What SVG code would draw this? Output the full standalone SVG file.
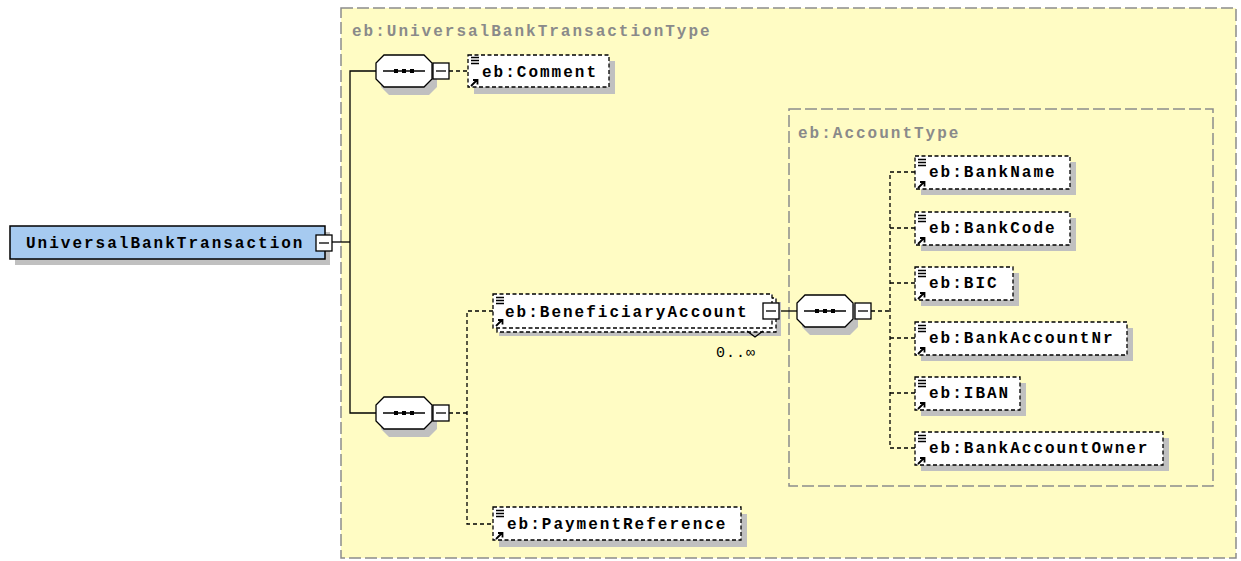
<svg xmlns="http://www.w3.org/2000/svg" width="1241" height="561" viewBox="0 0 1241 561">
<defs>
<style>
.bg{fill:#fff}
.type{fill:#FFFCC4;stroke:#8c8c8c;stroke-width:1.5;stroke-dasharray:12 4}
.tl{font-family:"Liberation Mono",monospace;font-weight:bold;font-size:16px;letter-spacing:2px;fill:#8a8a8a}
.t{font-family:"Liberation Mono",monospace;font-weight:bold;font-size:16px;letter-spacing:2px;fill:#000}
.occ{font-family:"Liberation Mono",monospace;font-size:15px;letter-spacing:1px;fill:#000}
.sh{fill:#c0c0c0}
.el{fill:#fff;stroke:#000;stroke-width:1.3;stroke-dasharray:4 2.5}
.root{fill:#A6CAF0;stroke:#000;stroke-width:1.5}
.ln{stroke:#000;stroke-width:1.3;fill:none}
.dl{stroke:#000;stroke-width:1.3;fill:none;stroke-dasharray:4 3}
.box{fill:#fff;stroke:#000;stroke-width:1.3}
.oct{fill:#fff;stroke:#000;stroke-width:1.3}
</style>
<g id="minus"><rect class="box" x="0" y="0" width="16" height="16"/><line class="ln" x1="3" y1="8" x2="13" y2="8"/></g>
<g id="seq"><path class="sh" d="M13 5 H53 L61 13 V32 L53 40 H13 L5 32 V13 Z"/><path class="oct" d="M8 0 H48 L56 8 V24 L48 32 H8 L0 24 V8 Z"/><line class="ln" x1="7" y1="16" x2="49" y2="16"/><rect x="18" y="14" width="4" height="4"/><rect x="26" y="14" width="4" height="4"/><rect x="34" y="14" width="4" height="4"/></g>
<g id="ico"><path d="M3 2.5 H11 M3 5.5 H11 M3 8.5 H11" stroke="#000" stroke-width="1.3"/><path d="M3 31 L9 25 M5 25 H9.5 V29.5" stroke="#000" stroke-width="1.8" fill="none"/></g>
</defs>
<rect width="1241" height="561" fill="#fff"/>
<g id="type-universal">
<rect class="type" x="341" y="8" width="895" height="550"/>
<text class="tl" x="352" y="36">eb:UniversalBankTransactionType</text>
</g>
<g id="type-account">
<rect class="type" x="789" y="109" width="424" height="377"/>
<text class="tl" x="798" y="138">eb:AccountType</text>
</g>
<g id="connectors">
<line class="ln" x1="332" y1="242" x2="350" y2="242"/>
<path class="ln" d="M376 71 H350 V413 H376"/>
<line class="dl" x1="449" y1="71" x2="468" y2="71"/>
<line class="dl" x1="449" y1="413" x2="467" y2="413"/>
<path class="dl" d="M493 311 H467 V524 H493"/>
<line class="ln" x1="779" y1="311" x2="797" y2="311"/>
<line class="dl" x1="871" y1="311" x2="890" y2="311"/>
<path class="dl" d="M915 172 H890 V448 H915"/>
<line class="dl" x1="890" y1="228" x2="915" y2="228"/>
<line class="dl" x1="890" y1="283" x2="915" y2="283"/>
<line class="dl" x1="890" y1="338" x2="915" y2="338"/>
<line class="dl" x1="890" y1="393" x2="915" y2="393"/>
</g>
<g id="node-root">
<rect class="sh" x="15" y="232" width="315" height="33"/>
<rect class="root" x="10" y="226" width="315" height="33"/>
<text class="t" x="26" y="248">UniversalBankTransaction</text>
<use href="#minus" x="316" y="235"/>
</g>
<g id="node-seq1"><use href="#seq" x="376" y="55"/><use href="#minus" x="433" y="63"/></g>
<g id="node-seq2"><use href="#seq" x="376" y="397"/><use href="#minus" x="433" y="405"/></g>
<g id="node-seq3"><use href="#seq" x="797" y="295"/><use href="#minus" x="855" y="303"/></g>
<g id="node-comment">
<rect class="sh" x="474" y="61" width="141" height="33"/>
<rect class="el" x="468" y="55" width="141" height="32"/>
<use href="#ico" x="468" y="55"/>
<text class="t" x="482" y="77">eb:Comment</text>
</g>
<g id="node-beneficiary">
<rect class="sh" x="499" y="302" width="282" height="34"/>
<rect class="el" x="497" y="298" width="279" height="34"/>
<rect class="el" x="493" y="294" width="279" height="34"/>
<use href="#ico" x="493" y="295"/>
<text class="t" x="505" y="317">eb:BeneficiaryAccount</text>
<use href="#minus" x="763" y="303"/>
<path class="ln" d="M747 331 L755 337 L763 331"/>
<text class="occ" x="716" y="357">0..∞</text>
</g>
<g id="node-payref">
<rect class="sh" x="499" y="514" width="248" height="33"/>
<rect class="el" x="493" y="507" width="248" height="33"/>
<use href="#ico" x="493" y="508"/>
<text class="t" x="507" y="529">eb:PaymentReference</text>
</g>
<g id="node-bankname">
<rect class="sh" x="921" y="162" width="155" height="33"/>
<rect class="el" x="915" y="156" width="155" height="33"/>
<use href="#ico" x="915" y="157"/>
<text class="t" x="929" y="177">eb:BankName</text>
</g>
<g id="node-bankcode">
<rect class="sh" x="921" y="218" width="155" height="33"/>
<rect class="el" x="915" y="212" width="155" height="33"/>
<use href="#ico" x="915" y="213"/>
<text class="t" x="929" y="233">eb:BankCode</text>
</g>
<g id="node-bic">
<rect class="sh" x="921" y="273" width="98" height="33"/>
<rect class="el" x="915" y="267" width="98" height="33"/>
<use href="#ico" x="915" y="268"/>
<text class="t" x="929" y="288">eb:BIC</text>
</g>
<g id="node-bankaccountnr">
<rect class="sh" x="921" y="328" width="212" height="33"/>
<rect class="el" x="915" y="322" width="212" height="33"/>
<use href="#ico" x="915" y="323"/>
<text class="t" x="929" y="343">eb:BankAccountNr</text>
</g>
<g id="node-iban">
<rect class="sh" x="921" y="383" width="105" height="33"/>
<rect class="el" x="915" y="377" width="105" height="33"/>
<use href="#ico" x="915" y="378"/>
<text class="t" x="929" y="398">eb:IBAN</text>
</g>
<g id="node-bankaccountowner">
<rect class="sh" x="921" y="438" width="248" height="33"/>
<rect class="el" x="915" y="432" width="248" height="33"/>
<use href="#ico" x="915" y="433"/>
<text class="t" x="929" y="453">eb:BankAccountOwner</text>
</g>
</svg>
